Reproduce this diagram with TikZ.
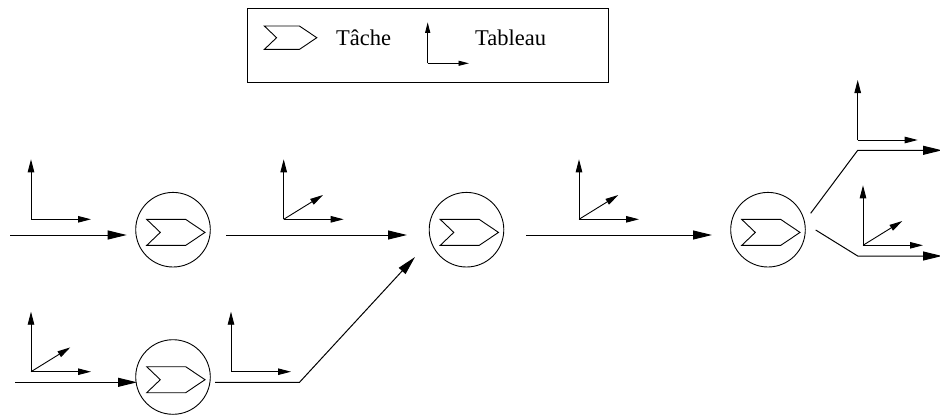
\documentclass[tikz,border=0pt]{standalone}
\usepackage{fontspec}
\setmainfont{Liberation Serif}
\usetikzlibrary{arrows.meta}

\tikzset{
    trait/.style={line width=0.9pt},
    axe/.style={trait, -{Triangle[length=13pt,width=6.5pt]}},
    axepetit/.style={trait, -{Triangle[length=10.5pt,width=5pt]}},
    flot/.style={line width=1pt, -{Triangle[length=19pt,width=9pt]}},
    tache/.style={circle, draw, trait, minimum size=74.6pt, inner sep=0pt},
    legende/.style={font=\fontsize{22.5}{24}\selectfont, anchor=base west, inner sep=0pt},
    chevron/.pic={\draw[trait] (-26.3,-13) -- (12.7,-13) -- (32,0) -- (12.7,13) -- (-26.3,13) -- (-12.7,0) -- cycle;}
}

\begin{document}
\begin{tikzpicture}[x=1pt, y=-1pt]
    \useasboundingbox (0,0) rectangle (940,418);

    % Legend
    \node[draw, trait, minimum width=361pt, minimum height=74pt, inner sep=0pt] (cadre) at (427.5,45.3) {};
    \pic[scale=0.9] at (288,37.7) {chevron};
    \node[legende] (ltache) at (336,45.7) {Tâche};
    \node[legende] (ltableau) at (475,45.7) {Tableau};
    \coordinate (lo) at (427.7,63.3);
    \draw[axepetit] (lo) -- ++(0,-41);
    \draw[axepetit] (lo) -- ++(41.3,0);

    % Tasks
    \foreach \n/\x/\y in {t1/173/229.7, t2/173/377, t3/466.5/229.7, t4/768/229.7} {
        \node[tache] (\n) at (\x,\y) {};
        \pic at ([yshift=-2.7pt]\n.center) {chevron};
    }

    % Arrays with 2 axes
    \foreach \n/\x/\y in {a1/31/219.3, a5/231/371.7, a6/857.7/140} {
        \coordinate (\n) at (\x,\y);
        \draw[axe] (\n) -- ++(0,-60);
        \draw[axe] (\n) -- ++(60,0);
    }

    % Arrays with 3 axes
    \foreach \n/\x/\y in {a2/283.7/219.3, a3/579/219.3, a4/31/371.7, a7/863/245.3} {
        \coordinate (\n) at (\x,\y);
        \draw[axe] (\n) -- ++(0,-60);
        \draw[axe] (\n) -- ++(60,0);
        \draw[axe] (\n) -- ++(39.3,-24.3);
    }

    % Connector ends
    \coordinate (e1) at (10,235);
    \coordinate (e2) at (126.7,235);
    \coordinate (e3) at (226,235);
    \coordinate (e4) at (407,235);
    \coordinate (e5) at (526,235);
    \coordinate (e6) at (712,235);
    \coordinate (e7) at (15,382.3);
    \coordinate (e8) at (137,382.3);
    \coordinate (e9) at (215,382.3);
    \coordinate (c9) at (299.5,382.3);
    \coordinate (e10) at (415,257);
    \coordinate (e11) at (810.7,213.3);
    \coordinate (c11) at (857.7,150.3);
    \coordinate (e12) at (942,150.3);
    \coordinate (e13) at (815.7,230);
    \coordinate (c13) at (857.7,256);
    \coordinate (e14) at (942,256);

    % Connectors
    \draw[flot] (e1) -- (e2);
    \draw[flot] (e3) -- (e4);
    \draw[flot] (e5) -- (e6);
    \draw[flot] (e7) -- (e8);
    \draw[flot] (e9) -- (c9) -- (e10);
    \draw[flot] (e11) -- (c11) -- (e12);
    \draw[flot] (e13) -- (c13) -- (e14);
\end{tikzpicture}
\end{document}
